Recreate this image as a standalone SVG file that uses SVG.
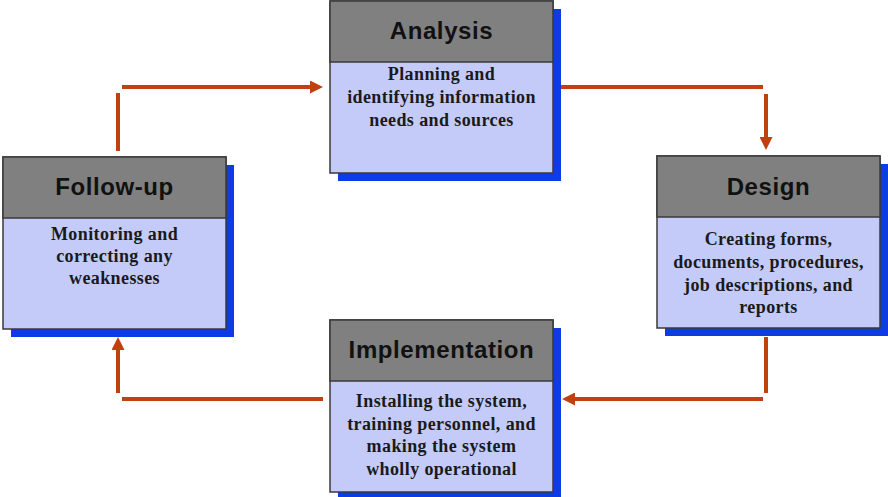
<svg xmlns="http://www.w3.org/2000/svg" width="888" height="497" viewBox="0 0 888 497">
  <style>
    .shadow { fill: #0d3be6; }
    .body { fill: #c4cbf9; stroke: #3a3a3a; stroke-width: 1.5; }
    .head { fill: #808080; stroke: #3a3a3a; stroke-width: 1.5; }
    .title { font-family: "Liberation Sans", Arial, sans-serif; font-weight: bold; font-size: 24px; letter-spacing: 0.6px; fill: #111; text-anchor: middle; }
    .desc { font-family: "Liberation Serif", "Times New Roman", serif; font-weight: bold; font-size: 18px; letter-spacing: 0.4px; fill: #1a1a1a; text-anchor: middle; }
    .wire { stroke: #c1410e; stroke-width: 4; fill: none; }
  </style>
  <defs>
    <marker id="arrow" viewBox="0 0 13 13" refX="3" refY="6.5" markerWidth="13" markerHeight="13" orient="auto" markerUnits="userSpaceOnUse">
      <path d="M0,0 L13,6.5 L0,13 Z" fill="#c1410e"/>
    </marker>
  </defs>

  <rect width="888" height="497" fill="#ffffff"/>

  <!-- connectors: each elbow is two separate strokes with a small gap at the corner -->
  <g id="connectors">
    <!-- Follow-up to Analysis -->
    <line class="wire" x1="118" y1="151" x2="118" y2="93"/>
    <line class="wire" x1="122" y1="87" x2="313" y2="87" marker-end="url(#arrow)"/>
    <!-- Analysis to Design -->
    <line class="wire" x1="560" y1="87" x2="763" y2="87"/>
    <line class="wire" x1="766" y1="94" x2="766" y2="140" marker-end="url(#arrow)"/>
    <!-- Design to Implementation -->
    <line class="wire" x1="766" y1="337" x2="766" y2="393"/>
    <line class="wire" x1="763" y1="399" x2="572" y2="399" marker-end="url(#arrow)"/>
    <!-- Implementation to Follow-up -->
    <line class="wire" x1="323" y1="399" x2="122" y2="399"/>
    <line class="wire" x1="118" y1="393" x2="118" y2="347" marker-end="url(#arrow)"/>
  </g>

  <g id="analysis">
    <rect class="shadow" x="338" y="9" width="223" height="172"/>
    <rect class="body" x="330" y="1" width="223" height="172"/>
    <rect class="head" x="330" y="1" width="223" height="61"/>
    <text class="title" x="441.5" y="39">Analysis</text>
    <text class="desc" x="441.5" y="80">Planning and</text>
    <text class="desc" x="441.5" y="103">identifying information</text>
    <text class="desc" x="441.5" y="126">needs and sources</text>
  </g>

  <g id="design">
    <rect class="shadow" x="665" y="164" width="223" height="172"/>
    <rect class="body" x="657" y="156" width="223" height="172"/>
    <rect class="head" x="657" y="156" width="223" height="61"/>
    <text class="title" x="768.5" y="195">Design</text>
    <text class="desc" x="768.5" y="245">Creating forms,</text>
    <text class="desc" x="768.5" y="268">documents, procedures,</text>
    <text class="desc" x="768.5" y="291">job descriptions, and</text>
    <text class="desc" x="768.5" y="313">reports</text>
  </g>

  <g id="implementation">
    <rect class="shadow" x="338" y="328" width="223" height="172"/>
    <rect class="body" x="330" y="320" width="223" height="172"/>
    <rect class="head" x="330" y="320" width="223" height="61"/>
    <text class="title" x="441.5" y="358">Implementation</text>
    <text class="desc" x="441.5" y="407">Installing the system,</text>
    <text class="desc" x="441.5" y="430">training personnel, and</text>
    <text class="desc" x="441.5" y="452">making the system</text>
    <text class="desc" x="441.5" y="475">wholly operational</text>
  </g>

  <g id="follow-up">
    <rect class="shadow" x="11" y="165" width="223" height="172"/>
    <rect class="body" x="3" y="157" width="223" height="172"/>
    <rect class="head" x="3" y="157" width="223" height="61"/>
    <text class="title" x="114.5" y="195">Follow-up</text>
    <text class="desc" x="114.5" y="240">Monitoring and</text>
    <text class="desc" x="114.5" y="262">correcting any</text>
    <text class="desc" x="114.5" y="284">weaknesses</text>
  </g>
</svg>
